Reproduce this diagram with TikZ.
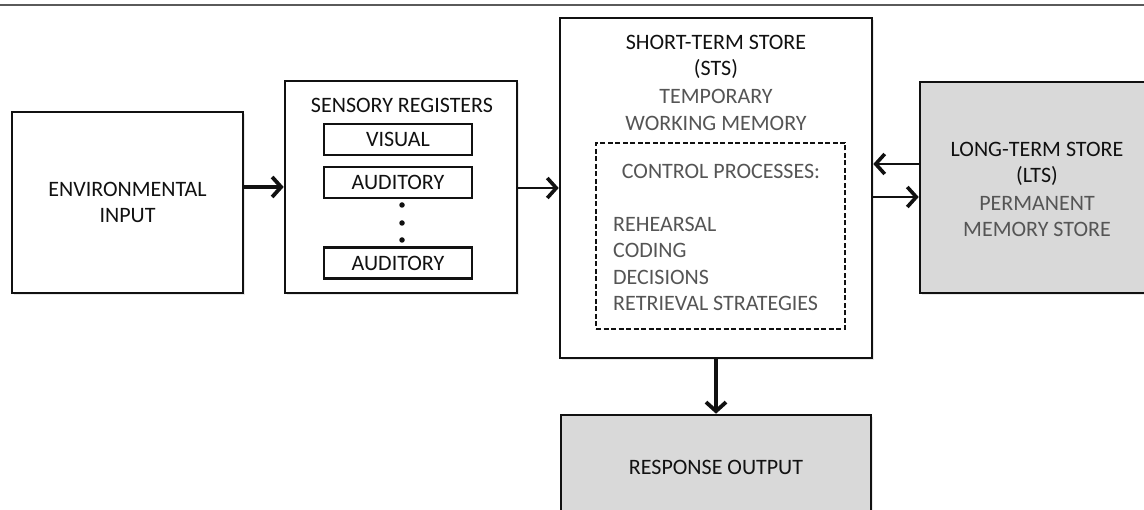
\documentclass[tikz,border=0pt]{standalone}
\usepackage{fontspec}
\setmainfont{Carlito}
\usetikzlibrary{arrows.meta,shadows,calc}

\definecolor{ink}{HTML}{111111}
\definecolor{soft}{HTML}{555555}
\definecolor{panel}{HTML}{D9D9D9}
\definecolor{rulegray}{HTML}{5A5A5A}

\begin{document}
\begin{tikzpicture}[x=1pt,y=-1pt,
  lbl/.style={font=\fontsize{22}{26.5}\selectfont, text=ink, align=center, inner sep=0pt},
  lblsoft/.style={lbl, text=soft},
  box/.style={draw=ink, line width=2.6pt, fill=white, inner sep=0pt, lbl,
    drop shadow={shadow xshift=1.5pt, shadow yshift=-2pt, opacity=0.18}},
  greybox/.style={box, fill=panel},
  regbox/.style={draw=ink, line width=2.4pt, fill=white, inner sep=0pt, lbl,
    minimum width=148pt, minimum height=31pt},
  dashbox/.style={draw=ink, line width=1.7pt, dash pattern=on 5pt off 2.5pt, inner sep=0pt},
  blob/.style={circle, fill=ink, inner sep=0pt, minimum size=5.5pt},
  bigarrow/.style={draw=ink, line width=3.8pt,
    -{Straight Barb[length=9pt,width=20pt,line width=3.8pt]}},
  thinarrow/.style={draw=ink, line width=2pt,
    -{Straight Barb[length=9pt,width=20pt,line width=3.6pt]}},
]
\useasboundingbox (0,0) rectangle (1144,510);
\clip (0,0) rectangle (1144,510);

% header rule
\draw[rulegray, line width=2.8pt] (0,5) -- (1144,5);

% environment
\node[box, minimum width=231pt, minimum height=181pt] (env) at (127.5,202.5)
  {ENVIRONMENTAL\\INPUT};

% sensory registers
\node[box, minimum width=232pt, minimum height=212pt] (sens) at (401,187) {};
\node[lbl] (senstitle) at (402,105) {SENSORY REGISTERS};
\node[regbox] (visual) at (398,139.5) {VISUAL};
\node[regbox] (aud1) at (398,182.5) {AUDITORY};
\node[blob] (d1) at (402,205) {};
\node[blob] (d2) at (402,223) {};
\node[blob] (d3) at (402,240) {};
\node[regbox] (aud2) at (398,263) {AUDITORY};

% short-term store
\node[box, minimum width=312pt, minimum height=340pt] (sts) at (716,188) {};
\node[lbl] (ststitle) at (716,57) {SHORT-TERM STORE\\(STS)};
\node[lblsoft] (stssub) at (716,110) {TEMPORARY\\WORKING MEMORY};
\node[dashbox, minimum width=249pt, minimum height=186pt] (ctrl) at (720.5,236) {};
\node[lblsoft] (ctrltitle) at (721,171) {CONTROL PROCESSES:};
\node[lblsoft, align=left, anchor=west] (ctrllist) at (613,264)
  {REHEARSAL\\CODING\\DECISIONS\\RETRIEVAL STRATEGIES};

% long-term store
\node[greybox, minimum width=234pt, minimum height=211pt] (lts) at (1037,187.5) {};
\node[lbl] (ltstitle) at (1037,164) {LONG-TERM STORE\\(LTS)};
\node[lblsoft] (ltssub) at (1037,216.5) {PERMANENT\\MEMORY STORE};

% response output
\node[greybox, minimum width=310pt, minimum height=104pt] (resp) at (716,467)
  {RESPONSE OUTPUT};

% connectors
\draw[bigarrow] ($(env.east)+(0,-15.5)$) -- (sens.west);
\draw[thinarrow] ($(sens.east)+(0,1)$) -- (sts.west);
\draw[thinarrow] ($(lts.west)+(0,-23.5)$) -- ($(sts.east)+(0,-24)$);
\draw[thinarrow] ($(sts.east)+(0,9)$) -- ($(lts.west)+(0,9.5)$);
\draw[bigarrow] (sts.south) -- (resp.north);
\end{tikzpicture}
\end{document}
